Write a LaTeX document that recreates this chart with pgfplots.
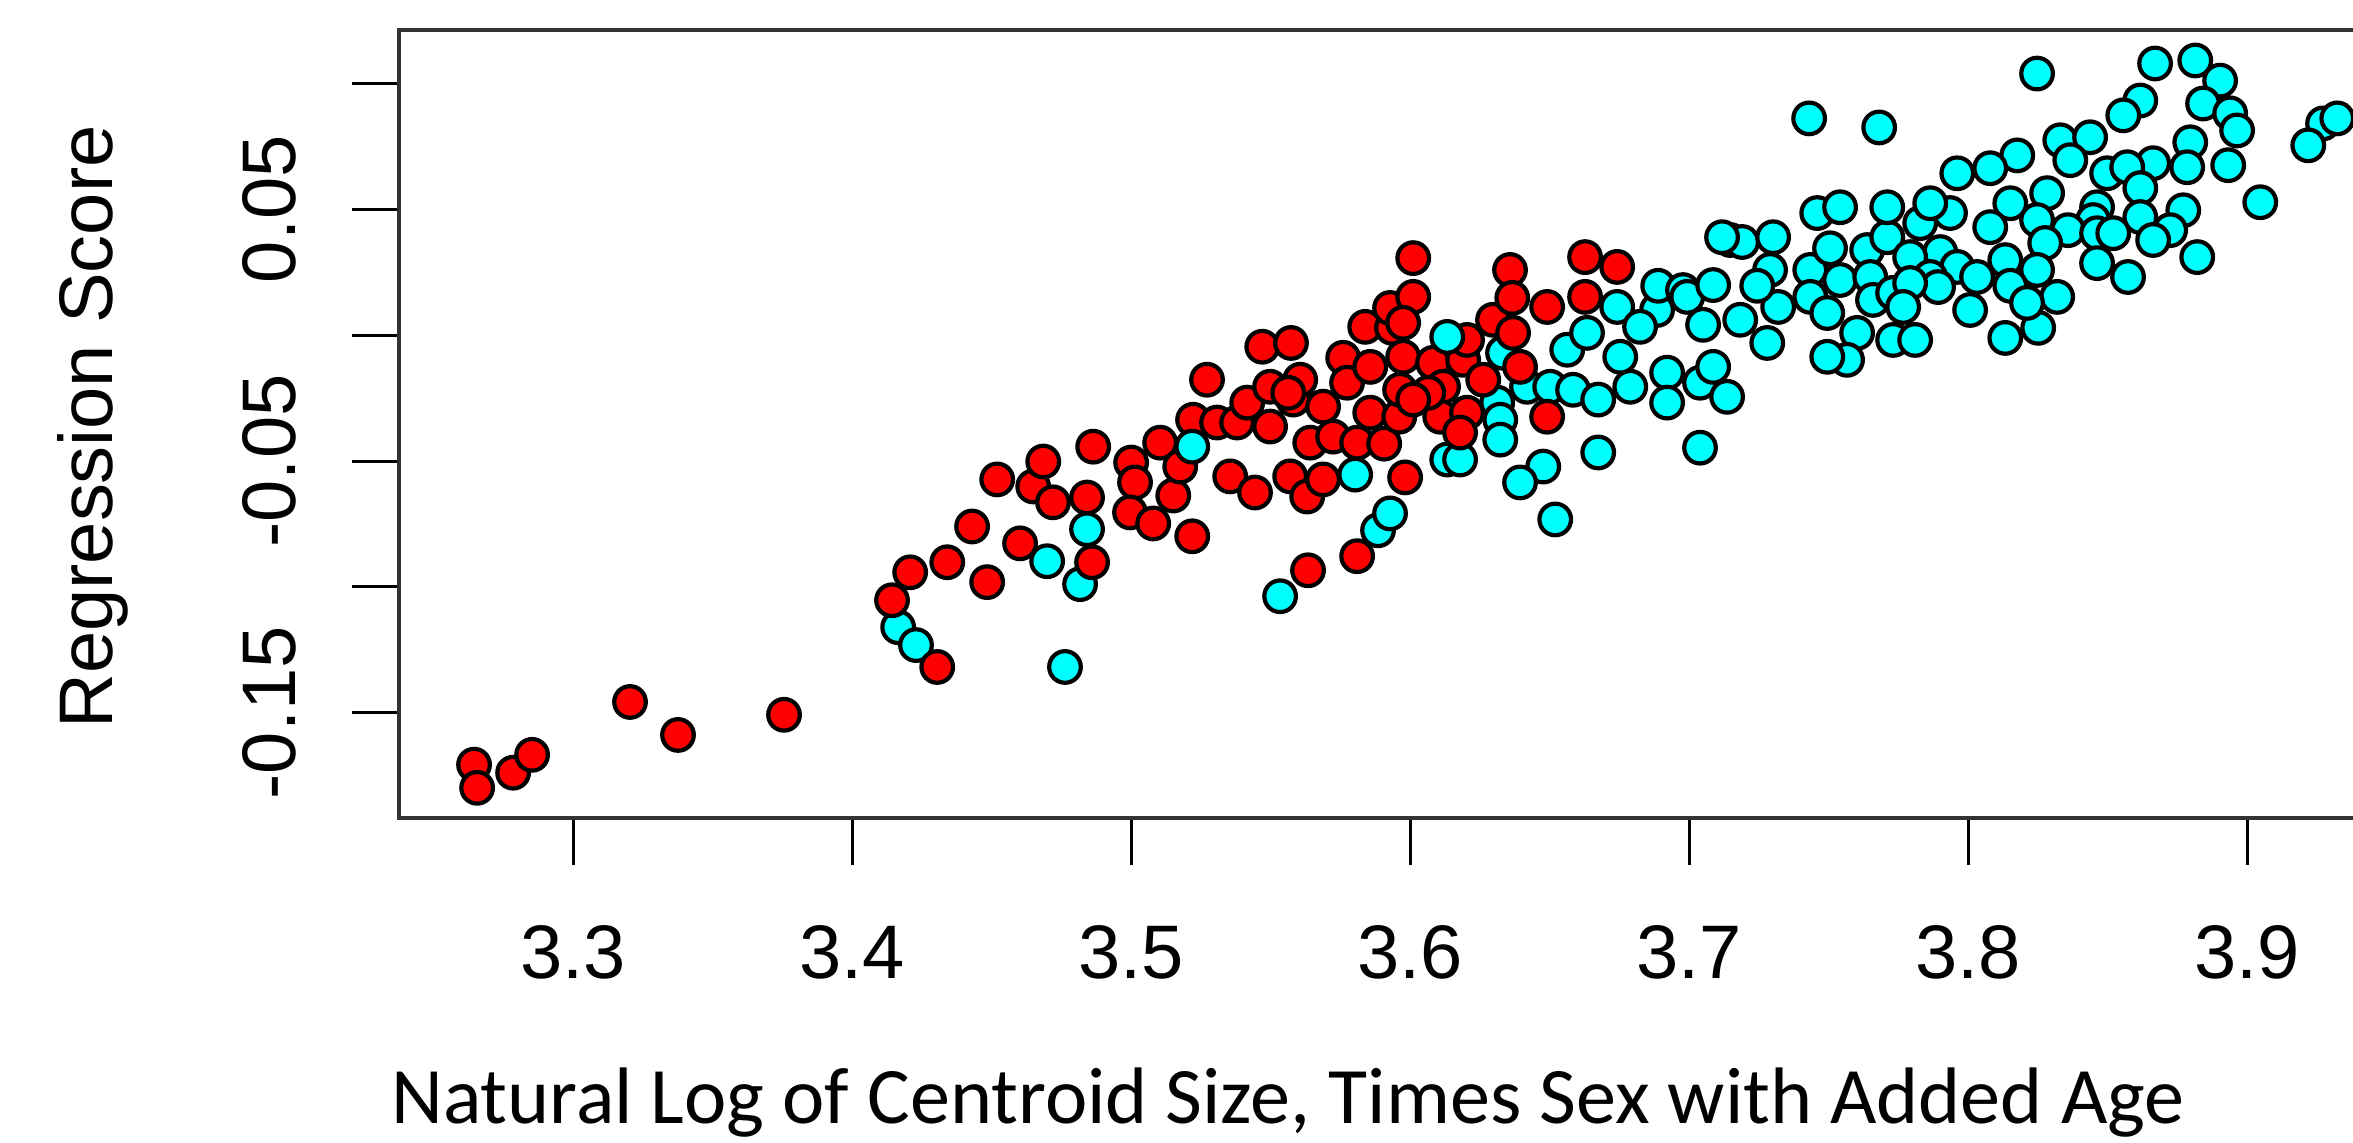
\documentclass[border=0pt]{standalone}
\usepackage{fontspec}
\setmainfont{Liberation Sans}
\newfontfamily\calibri{Carlito}
\usepackage{pgfplots}
\pgfplotsset{compat=1.18}

\definecolor{ptred}{RGB}{255,0,0}
\definecolor{ptcyan}{RGB}{0,255,255}

\pgfplotsset{
  pts/.style={only marks, mark=*, mark size=0.158cm,
    mark options={draw=black, line width=0.042cm, fill=#1}},
}

\begin{document}
\begin{tikzpicture}
\useasboundingbox (0,0) rectangle (23.53,-11.42);
\clip (0,0) rectangle (23.53,-11.42);
\begin{axis}[
  at={(3.99cm,-8.18cm)}, anchor=south west,
  scale only axis, width=19.74cm, height=7.88cm,
  xmin=3.2376, xmax=3.9451, ymin=-0.1918, ymax=0.1212,
  axis line style={black!80, line width=0.04cm},
  tick align=outside, xtick pos=bottom, ytick pos=left,
  major tick length=0.47cm,
  tick style={black, line width=0.03cm},
  xtick={3.3,3.4,3.5,3.6,3.7,3.8,3.9},
  xticklabels={3.3,3.4,3.5,3.6,3.7,3.8,3.9},
  ytick={-0.15,-0.1,-0.05,0,0.05,0.1},
  yticklabels={-0.15,{},-0.05,{},0.05,{}},
  tick label style={font=\fontsize{21.6pt}{26pt}\selectfont},
  xticklabel style={anchor=base, yshift=-1.13cm},
  yticklabel style={xshift=-0.57cm, rotate=90, anchor=base},
  every axis x label/.style={at={(axis description cs:0.4504,0)}, yshift=-3.05cm, anchor=base},
  every axis y label/.style={at={(axis description cs:0,0.4962)}, xshift=-2.87cm, rotate=90, anchor=base},
  xlabel={\calibri\fontsize{22.8pt}{27pt}\selectfont Natural Log of Centroid Size, Times Sex with Added Age},
  ylabel={\fontsize{21.6pt}{26pt}\selectfont Regression Score},
]
% cyan group
\addplot[pts=ptcyan] table {
x y
3.4165 -0.1160
3.4229 -0.1231
3.4817 -0.0989
3.4763 -0.1318
3.5534 -0.1037
3.5885 -0.0775
3.5928 -0.0708
3.6133 -0.0494
3.6179 -0.0494
3.6312 -0.0268
3.6323 -0.0336
3.6323 -0.0415
3.6333 -0.0070
3.6419 -0.0205
3.6502 -0.0205
3.6477 -0.0522
3.6394 -0.0585
3.6520 -0.0732
3.6584 -0.0217
3.6674 -0.0256
3.6674 -0.0466
3.6789 -0.0205
3.6921 -0.0149
3.6921 -0.0268
3.7039 -0.0189
3.7086 -0.0126
3.7136 -0.0245
3.7039 -0.0447
3.6753 -0.0086
3.6563 -0.0058
3.6634 0.0009
3.6742 0.0112
3.6885 0.0100
3.6824 0.0033
3.6889 0.0196
3.6978 0.0179
3.6993 0.0152
3.7086 0.0199
3.7050 0.0041
3.7183 0.0061
3.7147 0.0378
3.7190 0.0370
3.7301 0.0389
3.7290 0.0259
3.7319 0.0112
3.7280 -0.0031
3.7244 0.0196
3.7434 0.0259
3.7434 0.0152
3.7505 0.0345
3.7541 0.0219
3.7495 0.0088
3.7602 0.0009
3.7566 -0.0098
3.7495 -0.0086
3.7638 0.0338
3.7649 0.0231
3.7659 0.0140
3.7710 0.0389
3.7731 -0.0019
3.7731 0.0168
3.7459 0.0485
3.7541 0.0508
3.7710 0.0508
3.7430 0.0861
3.7681 0.0825
3.7118 0.0389
3.7810 -0.0019
3.8247 0.1039
3.8670 0.1079
3.8814 0.1091
3.8903 0.1011
3.8617 0.0932
3.8556 0.0873
3.8842 0.0920
3.8939 0.0881
3.8964 0.0813
3.9272 0.0841
3.9219 0.0754
3.9323 0.0861
3.8330 0.0774
3.8437 0.0786
3.8366 0.0695
3.8796 0.0766
3.8663 0.0683
3.8785 0.0667
3.8932 0.0675
3.9047 0.0528
3.8176 0.0714
3.8079 0.0663
3.7961 0.0643
3.8283 0.0564
3.8151 0.0524
3.8498 0.0643
3.8570 0.0667
3.8617 0.0584
3.8462 0.0508
3.8448 0.0457
3.8617 0.0469
3.8771 0.0496
3.8724 0.0417
3.8663 0.0378
3.7935 0.0485
3.7828 0.0445
3.7864 0.0524
3.8079 0.0429
3.8247 0.0457
3.8358 0.0417
3.8276 0.0366
3.8462 0.0405
3.8520 0.0405
3.7900 0.0330
3.7792 0.0310
3.7961 0.0271
3.7864 0.0231
3.8032 0.0231
3.8133 0.0298
3.8247 0.0259
3.7892 0.0191
3.7792 0.0207
3.8151 0.0196
3.8319 0.0152
3.8462 0.0286
3.8573 0.0231
3.8821 0.0310
3.8007 0.0100
3.7767 0.0112
3.8133 -0.0011
3.8251 0.0029
3.8211 0.0128
};
% red group
\addplot[pts=ptred] table {
x y
3.2645 -0.1706
3.2656 -0.1798
3.2785 -0.1738
3.2853 -0.1667
3.3204 -0.1457
3.3376 -0.1588
3.3756 -0.1508
3.4143 -0.1053
3.4208 -0.0942
3.4305 -0.1318
3.4341 -0.0902
3.4430 -0.0760
3.4484 -0.0981
3.4520 -0.0573
3.4602 -0.0827
3.4649 -0.0601
3.4685 -0.0502
3.4720 -0.0664
3.4842 -0.0645
3.4864 -0.0443
3.4860 -0.0902
3.5000 -0.0506
3.5014 -0.0585
3.4996 -0.0704
3.5079 -0.0748
3.5104 -0.0427
3.5151 -0.0637
3.5176 -0.0522
3.5219 -0.0799
3.5222 -0.0336
3.5308 -0.0347
3.5272 -0.0177
3.5355 -0.0561
3.5380 -0.0347
3.5416 -0.0268
3.5444 -0.0625
3.5470 -0.0046
3.5498 -0.0205
3.5498 -0.0363
3.5570 -0.0561
3.5573 -0.0031
3.5581 -0.0256
3.5606 -0.0177
3.5631 -0.0641
3.5642 -0.0427
3.5688 -0.0284
3.5688 -0.0573
3.5724 -0.0403
3.5760 -0.0090
3.5774 -0.0189
3.5810 -0.0427
3.5839 0.0033
3.5857 -0.0126
3.5857 -0.0308
3.5907 -0.0431
3.5935 0.0029
3.5928 0.0108
3.6011 0.0152
3.6011 0.0306
3.5961 -0.0324
3.5982 -0.0565
3.5810 -0.0878
3.5634 -0.0934
3.5975 0.0049
3.5975 -0.0086
3.5964 -0.0217
3.6082 -0.0110
3.6118 -0.0205
3.6108 -0.0324
3.6190 -0.0098
3.6204 -0.0019
3.6204 -0.0308
3.6179 -0.0387
3.6262 -0.0177
3.6297 0.0061
3.6369 0.0009
3.6358 0.0259
3.6366 0.0148
3.6394 -0.0126
3.6491 0.0112
3.6491 -0.0324
3.6627 0.0310
3.6742 0.0271
3.6627 0.0152
3.6065 -0.0229
3.5563 -0.0229
3.6011 -0.0256
};
% cyan points that sit on top of red ones
\addplot[pts=ptcyan] table {
x y
3.4699 -0.0898
3.4842 -0.0771
3.5219 -0.0443
3.5803 -0.0554
3.6133 -0.0007
};
\end{axis}
\end{tikzpicture}
\end{document}
